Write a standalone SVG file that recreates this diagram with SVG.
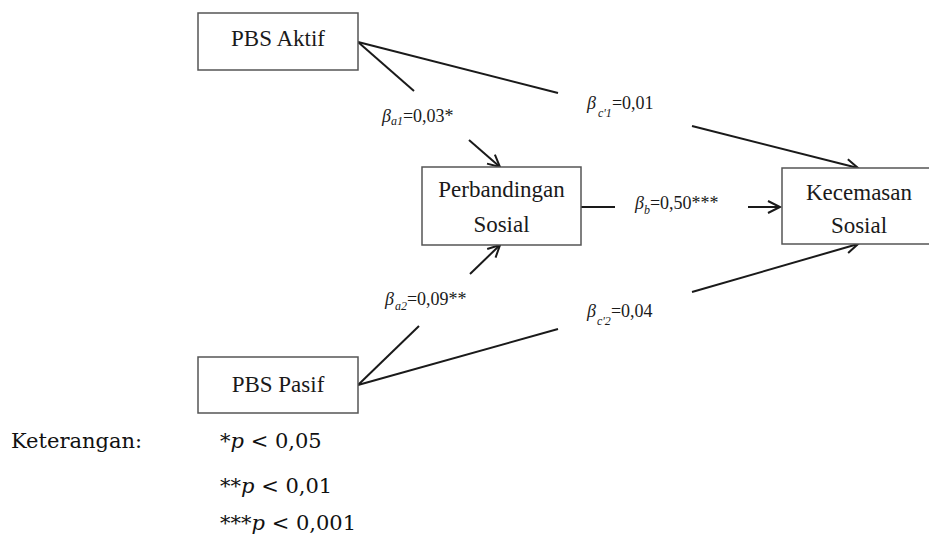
<svg xmlns="http://www.w3.org/2000/svg" width="929" height="537" viewBox="0 0 929 537">
<style>
.box{fill:#fff;stroke:#555;stroke-width:1.5}
.lbl{font-family:"Liberation Serif","Times New Roman",serif;font-size:23px;fill:#1a1a1a;text-anchor:middle}
.coef{font-family:"Liberation Serif","Times New Roman",serif;font-size:18px;fill:#1a1a1a}
.it{font-style:italic}
.sub{font-style:italic;font-size:12px}
.edge{stroke:#1a1a1a;stroke-width:2;fill:none}
.leg{font-family:"DejaVu Serif","Liberation Serif",serif;font-size:21px;fill:#111}
</style>
<defs>
<marker id="arr" markerUnits="userSpaceOnUse" markerWidth="16" markerHeight="16" refX="13" refY="7" orient="auto">
<path d="M1,1 L13,7 L1,13" fill="none" stroke="#1a1a1a" stroke-width="2"/>
</marker>
</defs>
<rect width="929" height="537" fill="#fff"/>
<g id="connectors">
<line class="edge" x1="358" y1="42" x2="414" y2="91"/>
<line class="edge" x1="469" y1="140" x2="500" y2="167" marker-end="url(#arr)"/>
<line class="edge" x1="358" y1="42" x2="558" y2="93"/>
<line class="edge" x1="692" y1="126" x2="858" y2="168" marker-end="url(#arr)"/>
<line class="edge" x1="581" y1="207" x2="615" y2="207"/>
<line class="edge" x1="748" y1="207" x2="780" y2="207" marker-end="url(#arr)"/>
<line class="edge" x1="358" y1="385" x2="419" y2="326"/>
<line class="edge" x1="470" y1="274" x2="500" y2="245" marker-end="url(#arr)"/>
<line class="edge" x1="358" y1="385" x2="558" y2="329"/>
<line class="edge" x1="692" y1="292" x2="858" y2="244" marker-end="url(#arr)"/>
</g>
<g id="coefficients">
<text class="coef" x="382" y="122"><tspan class="it">β</tspan><tspan class="sub" dy="3">a1</tspan><tspan dy="-3">=0,03*</tspan></text>
<text class="coef" x="587" y="109"><tspan class="it">β</tspan><tspan class="sub" dy="8" dx="2">c'1</tspan><tspan dy="-8">=0,01</tspan></text>
<text class="coef" x="635" y="209"><tspan class="it">β</tspan><tspan class="sub" dy="5">b</tspan><tspan dy="-5">=0,50***</tspan></text>
<text class="coef" x="385" y="305"><tspan class="it">β</tspan><tspan class="sub" dy="5" dx="1">a2</tspan><tspan dy="-5">=0,09**</tspan></text>
<text class="coef" x="587" y="317"><tspan class="it">β</tspan><tspan class="sub" dy="8" dx="1">c'2</tspan><tspan dy="-8">=0,04</tspan></text>
</g>
<g id="pbs-aktif">
<rect class="box" x="198" y="13" width="160" height="57"/>
<text class="lbl" x="278" y="46">PBS Aktif</text>
</g>
<g id="perbandingan-sosial">
<rect class="box" x="422" y="167" width="159" height="78"/>
<text class="lbl" x="501.5" y="197">Perbandingan</text>
<text class="lbl" x="501.5" y="232">Sosial</text>
</g>
<g id="kecemasan-sosial">
<rect class="box" x="782" y="168" width="155" height="76"/>
<text class="lbl" x="859" y="200">Kecemasan</text>
<text class="lbl" x="859" y="233">Sosial</text>
</g>
<g id="pbs-pasif">
<rect class="box" x="198" y="357" width="160" height="56"/>
<text class="lbl" x="278" y="392">PBS Pasif</text>
</g>
<g id="legend">
<text class="leg" x="11" y="448">Keterangan:</text>
<text class="leg" x="220" y="448">*<tspan font-style="italic">p</tspan> &lt; 0,05</text>
<text class="leg" x="220" y="493">**<tspan font-style="italic">p</tspan> &lt; 0,01</text>
<text class="leg" x="220" y="530">***<tspan font-style="italic">p</tspan> &lt; 0,001</text>
</g>
</svg>
